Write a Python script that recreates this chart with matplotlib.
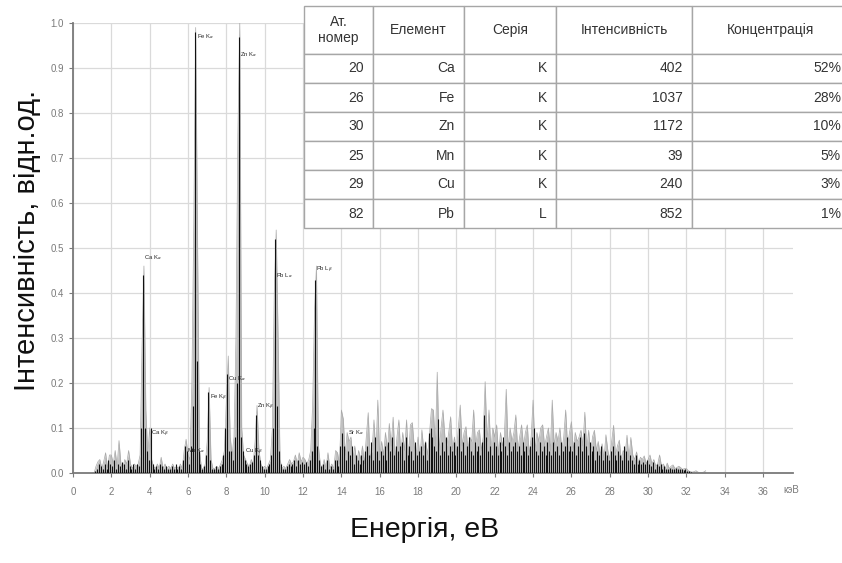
import numpy as np
import matplotlib
matplotlib.use("Agg")
from matplotlib import pyplot as plt

plt.rcParams['font.family'] = ['Liberation Sans', 'DejaVu Sans']

# спектр: сіра огинаюча, крок 0.1 кеВ від 1.0 до 33.0
gray_start = 1.0
gray_counts = [
    0.00, 0.00, 0.015, 0.025, 0.03, 0.01, 0.025, 0.045, 0.01, 0.04,      # 1
    0.04, 0.02, 0.05, 0.015, 0.072, 0.02, 0.01, 0.03, 0.02, 0.05,        # 2
    0.02, 0.01, 0.02, 0.015, 0.02, 0.04, 0.28, 0.46, 0.14, 0.04,         # 3
    0.10, 0.03, 0.015, 0.01, 0.02, 0.01, 0.035, 0.01, 0.02, 0.01,        # 4
    0.015, 0.01, 0.02, 0.01, 0.015, 0.01, 0.02, 0.01, 0.05, 0.075,       # 5
    0.04, 0.03, 0.20, 0.55, 0.99, 0.50, 0.05, 0.01, 0.01, 0.02,          # 6
    0.07, 0.19, 0.03, 0.01, 0.01, 0.015, 0.01, 0.02, 0.03, 0.05,         # 7
    0.16, 0.26, 0.08, 0.04, 0.08, 0.30, 0.75, 1.00, 0.10, 0.04,          # 8
    0.03, 0.02, 0.015, 0.03, 0.02, 0.07, 0.15, 0.05, 0.02, 0.01,         # 9
    0.015, 0.01, 0.02, 0.03, 0.10, 0.40, 0.54, 0.30, 0.03, 0.01,         # 10
    0.015, 0.01, 0.02, 0.03, 0.02, 0.025, 0.04, 0.02, 0.045, 0.025,      # 11
    0.035, 0.03, 0.02, 0.03, 0.05, 0.15, 0.36, 0.46, 0.06, 0.02,         # 12
    0.01, 0.03, 0.01, 0.045, 0.01, 0.02, 0.01, 0.05, 0.045, 0.02,        # 13
    0.14, 0.12, 0.04, 0.09, 0.07, 0.08, 0.03, 0.06, 0.02, 0.05,          # 14
    0.03, 0.06, 0.02, 0.08, 0.134, 0.03, 0.05, 0.118, 0.04, 0.162,       # 15
    0.03, 0.07, 0.04, 0.09, 0.05, 0.11, 0.06, 0.124, 0.03, 0.08,         # 16
    0.118, 0.04, 0.09, 0.05, 0.118, 0.03, 0.107, 0.112, 0.06, 0.04,      # 17
    0.08, 0.03, 0.096, 0.05, 0.07, 0.04, 0.09, 0.143, 0.14, 0.06,        # 18
    0.224, 0.05, 0.10, 0.14, 0.08, 0.06, 0.09, 0.125, 0.05, 0.08,        # 19
    0.04, 0.10, 0.151, 0.06, 0.09, 0.103, 0.05, 0.08, 0.07, 0.14,        # 20
    0.06, 0.09, 0.096, 0.05, 0.08, 0.203, 0.07, 0.14, 0.05, 0.10,        # 21
    0.08, 0.107, 0.04, 0.09, 0.06, 0.08, 0.186, 0.05, 0.10, 0.07,        # 22
    0.09, 0.129, 0.05, 0.08, 0.107, 0.06, 0.09, 0.107, 0.04, 0.08,       # 23
    0.162, 0.05, 0.09, 0.07, 0.10, 0.107, 0.06, 0.08, 0.10, 0.05,        # 24
    0.162, 0.06, 0.09, 0.07, 0.10, 0.05, 0.08, 0.14, 0.06, 0.09,         # 25
    0.114, 0.05, 0.09, 0.07, 0.08, 0.095, 0.06, 0.135, 0.05, 0.095,      # 26
    0.04, 0.08, 0.095, 0.05, 0.07, 0.04, 0.065, 0.03, 0.085, 0.05,       # 27
    0.03, 0.07, 0.106, 0.04, 0.06, 0.073, 0.03, 0.05, 0.04, 0.084,       # 28
    0.03, 0.079, 0.04, 0.03, 0.047, 0.02, 0.035, 0.03, 0.038, 0.02,      # 29
    0.03, 0.04, 0.02, 0.03, 0.015, 0.02, 0.04, 0.015, 0.02, 0.01,        # 30
    0.022, 0.01, 0.015, 0.018, 0.01, 0.012, 0.015, 0.012, 0.008, 0.01,   # 31
    0.01, 0.005, 0.003, 0.002, 0.003, 0.005, 0.002, 0.001, 0.001, 0.002, # 32
    0.005,
]

# чорні імпульси, зсунуті на 0.05 кеВ
dark_start = 1.05
dark_counts = [
    0.00, 0.005, 0.01, 0.02, 0.015, 0.01, 0.02, 0.01, 0.03, 0.02,
    0.015, 0.03, 0.01, 0.02, 0.015, 0.025, 0.02, 0.01, 0.03, 0.015,
    0.01, 0.02, 0.01, 0.02, 0.015, 0.10, 0.44, 0.10, 0.05, 0.03,
    0.10, 0.02, 0.01, 0.015, 0.01, 0.02, 0.015, 0.01, 0.015, 0.01,
    0.01, 0.015, 0.01, 0.02, 0.01, 0.015, 0.01, 0.03, 0.06, 0.05,
    0.02, 0.06, 0.15, 0.98, 0.25, 0.05, 0.02, 0.01, 0.015, 0.04,
    0.18, 0.03, 0.01, 0.01, 0.015, 0.01, 0.015, 0.02, 0.04, 0.10,
    0.22, 0.05, 0.05, 0.03, 0.08, 0.20, 0.97, 0.08, 0.05, 0.03,
    0.02, 0.015, 0.02, 0.025, 0.04, 0.13, 0.04, 0.03, 0.015, 0.01,
    0.01, 0.015, 0.02, 0.04, 0.10, 0.52, 0.15, 0.05, 0.02, 0.01,
    0.01, 0.015, 0.02, 0.015, 0.02, 0.03, 0.015, 0.03, 0.02, 0.025,
    0.02, 0.025, 0.015, 0.03, 0.05, 0.10, 0.43, 0.06, 0.03, 0.015,
    0.02, 0.01, 0.03, 0.01, 0.015, 0.01, 0.03, 0.03, 0.015, 0.06,
    0.09, 0.06, 0.03, 0.05, 0.04, 0.06, 0.02, 0.04, 0.03, 0.02,
    0.04, 0.03, 0.05, 0.06, 0.04, 0.07, 0.03, 0.08, 0.05, 0.03,
    0.05, 0.04, 0.06, 0.03, 0.07, 0.05, 0.08, 0.04, 0.06, 0.05,
    0.06, 0.07, 0.03, 0.08, 0.04, 0.06, 0.05, 0.03, 0.07, 0.04,
    0.05, 0.06, 0.04, 0.07, 0.03, 0.09, 0.10, 0.08, 0.06, 0.05,
    0.12, 0.04, 0.07, 0.05, 0.08, 0.04, 0.06, 0.05, 0.07, 0.04,
    0.06, 0.10, 0.05, 0.07, 0.04, 0.06, 0.08, 0.05, 0.04, 0.07,
    0.05, 0.06, 0.04, 0.07, 0.13, 0.08, 0.05, 0.06, 0.04, 0.07,
    0.06, 0.04, 0.07, 0.05, 0.08, 0.06, 0.04, 0.07, 0.05, 0.06,
    0.07, 0.05, 0.06, 0.04, 0.07, 0.05, 0.06, 0.04, 0.06, 0.08,
    0.10, 0.05, 0.04, 0.07, 0.05, 0.06, 0.04, 0.07, 0.05, 0.04,
    0.07, 0.05, 0.06, 0.04, 0.07, 0.05, 0.06, 0.08, 0.05, 0.06,
    0.05, 0.07, 0.04, 0.06, 0.08, 0.05, 0.09, 0.06, 0.04, 0.07,
    0.05, 0.06, 0.03, 0.05, 0.04, 0.06, 0.03, 0.05, 0.04, 0.03,
    0.05, 0.06, 0.04, 0.03, 0.05, 0.04, 0.03, 0.06, 0.05, 0.03,
    0.04, 0.03, 0.02, 0.04, 0.02, 0.03, 0.02, 0.025, 0.02, 0.03,
    0.02, 0.015, 0.025, 0.01, 0.02, 0.015, 0.02, 0.01, 0.015, 0.01,
    0.01, 0.012, 0.008, 0.01, 0.012, 0.01, 0.008, 0.01, 0.006, 0.008,
    0.005, 0.004, 0.002, 0.001, 0.001, 0.001, 0.001, 0.001, 0.001, 0.001,
]

# підписи ліній: (текст, енергія, висота)
line_names = ['Ca K$_\\alpha$', 'Ca K$_\\beta$', 'Mn K$_\\alpha$', 'Fe K$_\\alpha$',
              'Fe K$_\\beta$', 'Cu K$_\\alpha$', 'Zn K$_\\alpha$', 'Cu K$_\\beta$',
              'Zn K$_\\beta$', 'Pb L$_\\alpha$', 'Pb L$_\\beta$', 'Sr K$_\\alpha$']
line_energy = [3.70, 4.07, 5.95, 6.47, 7.15, 8.09, 8.71, 8.97, 9.60, 10.59, 12.68, 14.35]
line_height = [0.47, 0.075, 0.04, 0.96, 0.155, 0.20, 0.92, 0.035, 0.135, 0.43, 0.44, 0.08]

# таблиця результатів
at_number = ['20', '26', '30', '25', '29', '82']
element = ['Ca', 'Fe', 'Zn', 'Mn', 'Cu', 'Pb']
series = ['K', 'K', 'K', 'K', 'K', 'L']
intensity = ['402', '1037', '1172', '39', '240', '852']
concentration = ['52%', '28%', '10%', '5%', '3%', '1%']
col_names = ['Ат.\nномер', 'Елемент', 'Серія', 'Інтенсивність', 'Концентрація']

W, H = 842, 563
fig = plt.figure(figsize=(W / 100, H / 100), dpi=100)
ax = fig.add_axes([73 / W, 90 / H, 720 / W, 450 / H])

e_gray = gray_start + 0.1 * np.arange(len(gray_counts))
e_dark = dark_start + 0.1 * np.arange(len(dark_counts))

ax.fill_between(e_gray, gray_counts, 0, color='#c0c0c0', lw=0, zorder=2)
ax.plot(e_gray, gray_counts, color='#a8a8a8', lw=0.5, zorder=2)
ax.vlines(e_dark, 0, dark_counts, color='#111111', lw=0.8, zorder=3)

for name, e, h in zip(line_names, line_energy, line_height):
    ax.text(e, h, name, fontsize=4.2, color='#222222', ha='left', va='bottom', zorder=4)

ax.set_xlim(0, 37.56)
ax.set_ylim(0, 1.0)
ax.set_xticks(np.arange(0, 37, 2))
ax.set_yticks(np.arange(0, 1.01, 0.1))
ax.set_yticklabels(['%.1f' % v for v in np.arange(0, 1.01, 0.1)])
ax.grid(True, color='#dadada', lw=0.9, zorder=0)
ax.set_axisbelow(True)
for s in ['top', 'right']:
    ax.spines[s].set_visible(False)
for s in ['left', 'bottom']:
    ax.spines[s].set_color('#7a7a7a')
    ax.spines[s].set_linewidth(1.3)
ax.tick_params(axis='both', colors='#7a7a7a', labelsize=7, length=3, width=0.8)
ax.tick_params(axis='x', pad=7)
ax.text(0.997, -0.038, 'кэВ', transform=ax.transAxes, fontsize=7,
        color='#7a7a7a', ha='center', va='center')

fig.text(425 / W, 1 - 530 / H, 'Енергія, еВ', fontsize=20.5, color='#111111',
         ha='center', va='center')
fig.text(27 / W, 1 - 240 / H, 'Інтенсивність, відн.од.', fontsize=21,
         color='#111111', ha='center', va='center', rotation=90)

# таблиця поверх графіка
tab_ax = fig.add_axes([304 / W, 1 - 228 / H, (850 - 304) / W, 222 / H])
tab_ax.axis('off')
col_px = [69, 91, 92, 136, 158]
rows = list(zip(at_number, element, series, intensity, concentration))
tab = tab_ax.table(cellText=rows, colLabels=col_names, cellLoc='right',
                   colLoc='center', colWidths=[c / sum(col_px) for c in col_px],
                   bbox=[0, 0, 1, 1])
tab.auto_set_font_size(False)
row_h = 29.0
for (r, c), cell in tab.get_celld().items():
    cell.set_edgecolor('#a6a6a6')
    cell.set_linewidth(1.0)
    cell.set_facecolor('white')
    cell.get_text().set_fontsize(10)
    cell.get_text().set_color('#333333')
    cell.PAD = 9.0 / col_px[c]
    cell.set_height(48.0 if r == 0 else row_h)

fig.savefig('out.png', dpi=100)
